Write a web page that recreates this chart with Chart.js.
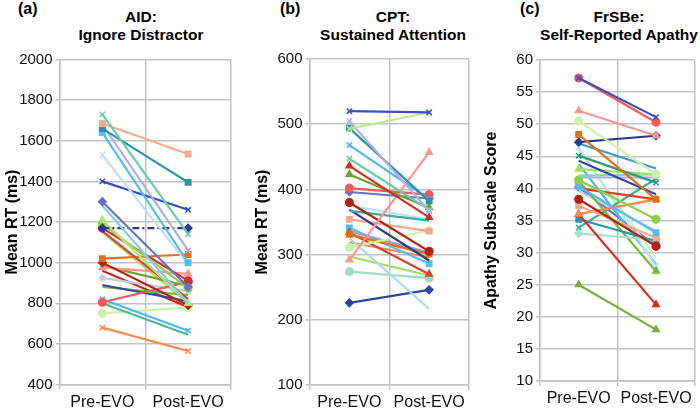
<!DOCTYPE html>
<html><head><meta charset="utf-8">
<script src="https://cdn.jsdelivr.net/npm/chart.js@4/dist/chart.umd.min.js"></script>
<style>
body{margin:0;width:700px;height:415px;overflow:hidden;background:#fff;font-family:"Liberation Sans",Arial,sans-serif;position:relative}
canvas{position:absolute;top:0}
.lbl{position:absolute;font-weight:bold;font-size:16px;line-height:16px;color:#000}
.ttl{position:absolute;font-weight:bold;font-size:15.5px;text-align:center;line-height:18px;color:#000;width:220px}
</style></head><body>
<div class="lbl" style="left:18px;top:1px">(a)</div>
<div class="lbl" style="left:280px;top:1px">(b)</div>
<div class="lbl" style="left:520px;top:1px">(c)</div>
<div class="ttl" style="left:31px;top:8px">AID:<br>Ignore Distractor</div>
<div class="ttl" style="left:283px;top:8px">CPT:<br>Sustained Attention</div>
<div class="ttl" style="left:509px;top:8px">FrSBe:<br>Self-Reported Apathy</div>
<canvas id="ca" width="245" height="415" style="left:0px;width:245px;height:415px"></canvas>
<canvas id="cb" width="225" height="415" style="left:250px;width:225px;height:415px"></canvas>
<canvas id="cc" width="221" height="415" style="left:479px;width:221px;height:415px"></canvas>
<script>
const categories = ['Pre-EVO', 'Post-EVO'];

// (a) AID: Ignore Distractor, mean RT (ms)
const aidPre  = [1730,1685,1660,1640,1680,1530,1400,1300,1280,1170,1210,1190,1170,1155,1020,1000,975,985,805,890,880,820,800,750,680,925,960,1150];
const aidPost = [1140,1535,1395,1000,1060, 990,1260, 880, 800,1170, 800, 875, 910, 820,1040, 790,945,885,905,810,840,665,645,780,565,860,780, 800];

// (b) CPT: Sustained Attention, mean RT (ms)
const cptPre  = [520,493,505,494,468,447,436,423,402,396,292,380,367,375,369,354,311,331,336,334,325,297,274,226,341,319,330];
const cptPost = [518,518,367,382,385,369,357,372,392,386,457,305,352,354,291,336,337,301,303,270,217,268,264,246,286,296,300];

// (c) FrSBe: Self-Reported Apathy subscale score
const apathyPre  = [57.2,57.2,52.1,50.5,48.4,47.2,47.0,45.1,44.3,43.0,42.0,41.3,41.7,40.3,40.0,38.3,37.3,36.0,36.0,35.2,33.9,33.0,25.0,41.2,46.4,46.0,43.8,39.6,40.2];
const apathyPost = [51.1,50.3,48.2,42.2,38.3,48.2,43.1,40.9,39.1,42.2,42.2,35.2,41.7,33.1,38.3,31.0,32.3,38.3,21.9,31.8,41.5,32.0,18.0,27.1,27.9,29.2,28.2,33.4,31.0];

// series styles
const aidColors = ['#66CDA5','#F8A98C','#2A93AC','#55BDEE','#AEAEDD','#BCE2F5','#3A4EC2','#6674C6','#86CBEF','#2B3B94','#B2E47C','#8CCF4E','#D2301E','#D94432','#E2700E','#B22312','#F49890','#6FA032','#F05A5A','#3448AA','#7AB53A','#4CB8EA','#4DB896','#CFEFAE','#F58A4A','#C2CAE8','#C42A1A','#A6DE64'];
const aidMarks  = ['crossRot','rect','rect','rect','crossRot','crossRot','crossRot','rectRot',false,'rectRot','triangle','circle','circle',false,'rect','rectRot','triangle',false,'circle',false,false,'crossRot',false,'circle','crossRot','star',false,false];
const cptColors = ['#3A4EC2','#BDEA8E','#B2B2DF','#2A93AC','#4CB8EA','#66CDA5','#D2301E','#6FA032','#F05A5A','#6674C6','#F49890','#B22312','#3AAE96','#BCE2F5','#2B3B94','#F8A98C','#CFEFAE','#E2700E','#9E9ED6','#D94432','#A6DAF4','#A6DE64','#9EDCC0','#2E44A0','#55BDEE','#F58A4A','#F4B183'];
const cptMarks  = ['crossRot','crossRot','crossRot','rect','crossRot','crossRot','triangle','triangle','circle','rectRot','triangle','circle',false,false,false,'rect','circle','rect',false,'triangle',false,false,'circle','rectRot','rect',false,false];
const apaColors = ['#3A4EC2','#F05A5A','#F49890','#CFEFAE','#E2700E','#2B3B94','#3A9CC8','#2E9A80','#3448AA','#A6DE64','#7FD8B8','#8CCF4E','#AEAEDD','#55BDEE','#E04020','#B22312','#F8A98C','#F58A4A','#D2301E','#2A93AC','#3AAE96','#A8E0CC','#7AAE3A','#7AB53A','#BCE2F5','#D4F0B0','#4CB8EA','#C2CAE8','#6674C6'];
const apaMarks  = ['crossRot','circle','triangle','circle','rect','rectRot',false,'crossRot',false,'triangle',false,'circle',false,'rect',false,'circle','rect','triangle','triangle','rect','crossRot','rectRot','triangle','triangle','crossRot',false,false,false,'rectRot'];

const FONT = '"Liberation Sans", Arial, sans-serif';
const GRID = '#C2C2C2';

function makeDatasets(pre, post, colors, marks, dashIdx) {
  return pre.map((v, i) => ({
    data: [v, post[i]],
    borderColor: colors[i],
    backgroundColor: colors[i],
    borderWidth: 2.2,
    borderDash: i === dashIdx ? [7, 3, 2, 3] : [],
    pointStyle: marks[i] || 'circle',
    pointRadius: marks[i] ? 3.8 : 0,
    pointBorderWidth: 1.5,
    pointHoverRadius: 0,
    tension: 0
  }));
}

function makeChart(id, pre, post, colors, marks, dashIdx, yMin, yMax, step, yTitle, yWidth, pad) {
  new Chart(document.getElementById(id), {
    type: 'line',
    data: { labels: categories, datasets: makeDatasets(pre, post, colors, marks, dashIdx) },
    options: {
      responsive: false,
      animation: false,
      events: [],
      layout: { padding: { top: pad.top, right: pad.right, bottom: 0, left: 0 } },
      plugins: { legend: { display: false }, tooltip: { enabled: false }, title: { display: false } },
      scales: {
        x: {
          type: 'category',
          offset: true,
          grid: { offset: true, color: GRID, lineWidth: 1.5, tickLength: 5, drawTicks: true },
          border: { color: GRID, width: 1.5 },
          ticks: { color: '#111', font: { family: FONT, size: 16 }, padding: 3, maxRotation: 0, minRotation: 0, autoSkip: false },
          afterFit: s => { s.height = pad.bottom; }
        },
        y: {
          min: yMin, max: yMax,
          ticks: { stepSize: step, color: '#111', font: { family: FONT, size: 15 }, padding: 3,
                   callback: v => String(v) },
          grid: { color: GRID, lineWidth: 1.5, tickLength: 4 },
          border: { color: GRID, width: 1.5 },
          title: { display: true, text: yTitle, color: '#000', font: { family: FONT, size: 16, weight: 'bold' }, padding: { top: 3, bottom: 4 } },
          afterFit: s => { s.width = yWidth; }
        }
      }
    }
  });
}

makeChart('ca', aidPre, aidPost, aidColors, aidMarks, 9, 400, 2000, 200, 'Mean RT (ms)', 59.5, { top: 59.5, right: 14, bottom: 30.5 });
makeChart('cb', cptPre, cptPost, cptColors, cptMarks, -1, 100, 600, 100, 'Mean RT (ms)', 59.5, { top: 59, right: 6, bottom: 30 });
makeChart('cc', apathyPre, apathyPost, apaColors, apaMarks, -1, 10, 60, 5, 'Apathy Subscale Score', 61, { top: 60, right: 2, bottom: 34 });
</script>
</body></html>
